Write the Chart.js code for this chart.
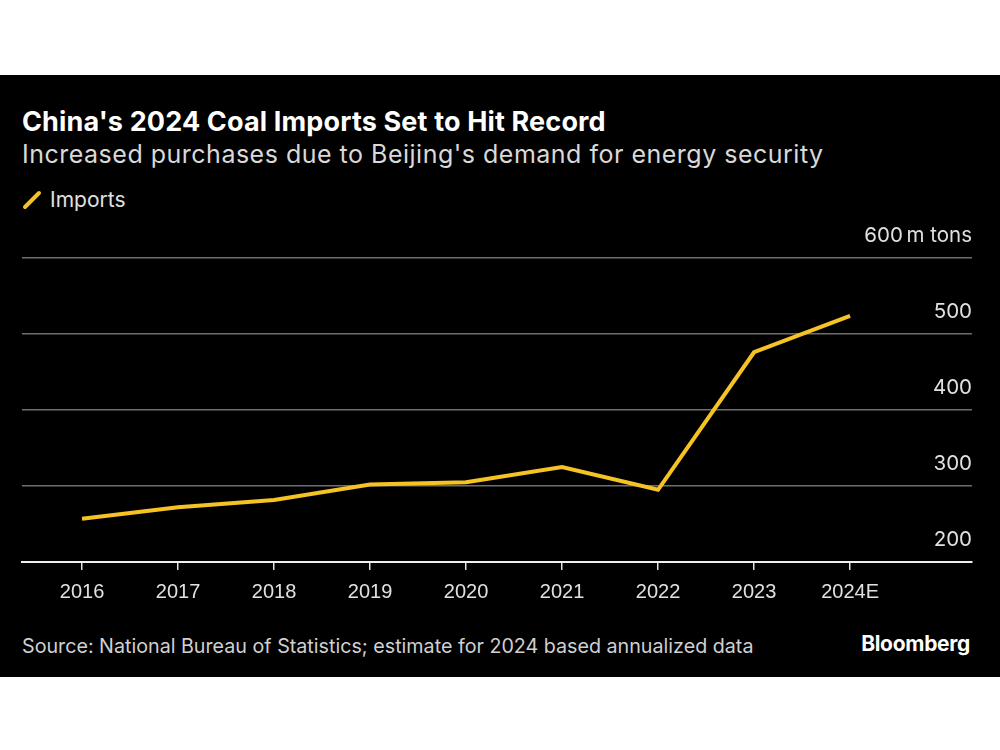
<!DOCTYPE html>
<html>
<head>
<meta charset="utf-8">
<script src="https://cdn.jsdelivr.net/npm/chart.js@4/dist/chart.umd.min.js"></script>
<style>
  html, body { margin: 0; padding: 0; background: #fff; width: 1000px; height: 750px; overflow: hidden; }
  #panel { position: absolute; left: 0; top: 75px; width: 1000px; height: 602px; background: #000; }
  .t { position: absolute; left: 22px; white-space: nowrap; font-family: Inter, "Liberation Sans", Arial, sans-serif; }
  #title { top: 105px; font-size: 27px; font-weight: bold; color: #fff; letter-spacing: 0.15px; }
  #subtitle { top: 139px; font-size: 25px; color: #d9d9d9; letter-spacing: 0.5px; }
  #legend { top: 187px; font-size: 21px; color: #e0e0e0; left: 22px; }
  #legend svg { vertical-align: -3px; margin-right: 8px; }
  #source { top: 634px; font-size: 19.7px; color: #d0d0d0; }
  #brand { top: 631px; left: auto; right: 30px; font-size: 21px; font-weight: bold; color: #fff; letter-spacing: -0.3px; }
  #wrap { position: absolute; left: 0; top: 210px; width: 1000px; height: 410px; }
</style>
</head>
<body>
<div id="panel"></div>
<div class="t" id="title">China's 2024 Coal Imports Set to Hit Record</div>
<div class="t" id="subtitle">Increased purchases due to Beijing's demand for energy security</div>
<div class="t" id="legend"><svg width="20" height="20"><line x1="3" y1="17" x2="17" y2="3" stroke="#f6c324" stroke-width="4" stroke-linecap="round"/></svg>Imports</div>
<div id="wrap"><canvas id="c" width="1000" height="410"></canvas></div>
<div class="t" id="source">Source: National Bureau of Statistics; estimate for 2024 based annualized data</div>
<div class="t" id="brand">Bloomberg</div>
<script>
const categories = ["2016", "2017", "2018", "2019", "2020", "2021", "2022", "2023", "2024E"];
const imports = [257, 272, 281.5, 302, 305, 325, 295, 476, 524];
const yTicks = [200, 300, 400, 500, 600];
const yUnit = "m tons";

const points = imports.map((v, i) => ({ x: i, y: v }));

new Chart(document.getElementById('c'), {
  type: 'line',
  data: {
    datasets: [{
      label: 'Imports',
      data: points,
      borderColor: '#f6c324',
      borderWidth: 4,
      pointRadius: 0,
      tension: 0,
      fill: false
    }]
  },
  options: {
    responsive: false,
    animation: false,
    devicePixelRatio: 1,
    layout: { padding: { left: 22, right: 28, top: 48, bottom: 6 } },
    plugins: { legend: { display: false }, tooltip: { enabled: false } },
    scales: {
      x: {
        type: 'linear',
        min: -0.625,
        max: 9.27,
        afterBuildTicks: (s) => { s.ticks = categories.map((_, i) => ({ value: i })); },
        ticks: {
          autoSkip: false,
          maxRotation: 0,
          padding: 10,
          color: '#e0e0e0',
          font: { family: '"Liberation Sans", Arial, sans-serif', size: 20 },
          callback: (v) => categories[v]
        },
        grid: { drawOnChartArea: false, drawTicks: true, tickLength: 8, color: '#e0e0e0', lineWidth: 1.5 },
        border: { display: true, color: '#f0f0f0', width: 2 }
      },
      y: {
        position: 'right',
        min: 200,
        max: 600,
        afterBuildTicks: (s) => { s.ticks = yTicks.map(v => ({ value: v })); },
        ticks: {
          mirror: true,
          padding: 0,
          labelOffset: -22,
          color: '#e0e0e0',
          font: { family: 'Inter, "Liberation Sans", Arial, sans-serif', size: 20.5 },
          callback: (v) => v === 600 ? v + '\u2009' + yUnit : String(v)
        },
        grid: { color: '#6e6e6e', lineWidth: 1.5, drawTicks: false },
        border: { display: false }
      }
    }
  }
});
</script>
</body>
</html>
